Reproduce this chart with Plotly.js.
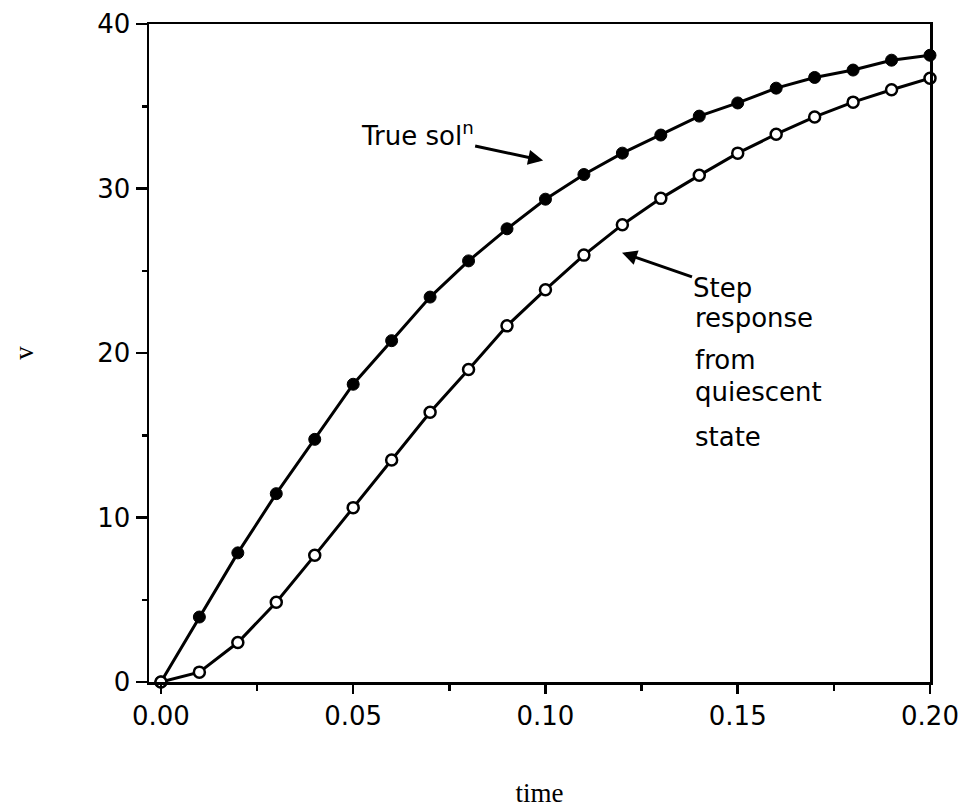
<!DOCTYPE html>
<html>
<head>
<meta charset="utf-8">
<script src="https://cdn.plot.ly/plotly-3.0.1.min.js"></script>
<style>html,body{margin:0;padding:0;background:#fff;}#chart{width:961px;height:811px;}</style>
</head>
<body>
<div id="chart"></div>
<script>
// Data
const time = [0.00, 0.01, 0.02, 0.03, 0.04, 0.05, 0.06, 0.07, 0.08, 0.09, 0.10,
              0.11, 0.12, 0.13, 0.14, 0.15, 0.16, 0.17, 0.18, 0.19, 0.20];
const trueSolution = [0, 3.95, 7.85, 11.45, 14.75, 18.1, 20.75, 23.4, 25.6, 27.55, 29.35,
                      30.85, 32.15, 33.25, 34.4, 35.2, 36.1, 36.75, 37.2, 37.8, 38.1];
const stepResponse = [0, 0.6, 2.4, 4.85, 7.7, 10.6, 13.5, 16.4, 19.0, 21.65, 23.85,
                      25.95, 27.8, 29.4, 30.8, 32.15, 33.3, 34.35, 35.25, 36.0, 36.7];
const xTickVals = [0.00, 0.05, 0.10, 0.15, 0.20];
const yTickVals = [0, 10, 20, 30, 40];
const xTitle = "time";
const yTitle = "v";
const noteTrue = "True sol<sup>n</sup>";
const noteStep = ["Step", "response", "from", "quiescent", "state"];

const traces = [
  {
    x: time, y: trueSolution, type: "scatter", mode: "lines+markers",
    line: {color: "#000", width: 3},
    marker: {color: "#000", size: 12, line: {color: "#000", width: 1}},
    cliponaxis: false, showlegend: false, hoverinfo: "x+y"
  },
  {
    x: time, y: stepResponse, type: "scatter", mode: "lines+markers",
    line: {color: "#000", width: 3},
    marker: {color: "#fff", size: 11, line: {color: "#000", width: 2.5}},
    cliponaxis: false, showlegend: false, hoverinfo: "x+y"
  }
];

const handFont = {family: "DejaVu Sans, sans-serif", size: 26, color: "#000"};
const arrowStyle = {showarrow: true, arrowhead: 2, arrowsize: 1, arrowwidth: 3, arrowcolor: "#000"};
const annotations = [
  Object.assign({x: 0.0994, y: 31.7, xref: "x", yref: "y", text: noteTrue,
    ax: -126, ay: -27, font: handFont}, arrowStyle),
  Object.assign({x: 0.1199, y: 26.1, xref: "x", yref: "y", text: noteStep[0],
    ax: 101, ay: 35, font: handFont}, arrowStyle)
];
const stepLineY = [null, 22.1, 19.6, 17.6, 14.9];
noteStep.forEach(function (t, i) {
  if (i === 0) return;
  annotations.push({x: 0.1384, y: stepLineY[i], xref: "x", yref: "y", text: t,
    showarrow: false, xanchor: "left", yanchor: "middle", font: handFont});
});

const tickFont = {family: "DejaVu Sans, sans-serif", size: 26, color: "#000"};
const titleFont = {family: "Liberation Serif, Times New Roman, serif", size: 27, color: "#000"};

const layout = {
  width: 961, height: 811,
  margin: {l: 149, r: 31, t: 24, b: 129, pad: 0},
  paper_bgcolor: "#fff", plot_bgcolor: "#fff",
  showlegend: false,
  font: {family: "DejaVu Sans, sans-serif", size: 20, color: "#000"},
  xaxis: {
    range: [-0.0031, 0.2], tickvals: xTickVals, tickformat: ".2f",
    ticks: "outside", ticklen: 9, tickwidth: 2.5, tickcolor: "#000",
    minor: {dtick: 0.025, tick0: 0, ticks: "outside", ticklen: 6, tickwidth: 2.5, tickcolor: "#000", showgrid: false},
    showline: true, linewidth: 2.5, linecolor: "#000", mirror: true,
    showgrid: false, zeroline: false,
    tickfont: tickFont,
    title: {text: xTitle, font: titleFont, standoff: 54}
  },
  yaxis: {
    range: [0, 40], tickvals: yTickVals,
    ticks: "outside", ticklen: 11, tickwidth: 2.5, tickcolor: "#000",
    minor: {dtick: 5, tick0: 0, ticks: "outside", ticklen: 5, tickwidth: 2.5, tickcolor: "#000", showgrid: false},
    showline: true, linewidth: 2.5, linecolor: "#000", mirror: true,
    showgrid: false, zeroline: false,
    tickfont: tickFont,
    title: {text: yTitle, font: titleFont, standoff: 56}
  },
  annotations: annotations
};

Plotly.newPlot("chart", traces, layout, {staticPlot: true, displayModeBar: false});
</script>
</body>
</html>
